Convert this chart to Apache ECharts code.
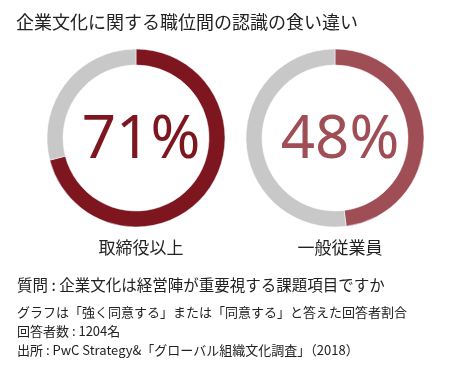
<!DOCTYPE html>
<html><head><meta charset="utf-8">
<script src="https://cdn.jsdelivr.net/npm/echarts@6/dist/echarts.min.js"></script>
<style>html,body{margin:0;padding:0;background:#fff}#c{width:470px;height:370px}</style>
</head><body><div id="c"></div>
<script>
const titleText = '企業文化に関する職位間の認識の食い違い';
const categories = ['取締役以上', '一般従業員'];
const values = [71, 48];
const colors = ['#7e1620', '#a04e56'];
const restColor = '#c8c8c8';
const notes = [
  '質問 : 企業文化は経営陣が重要視する課題項目ですか',
  'グラフは「強く同意する」または「同意する」と答えた回答者割合',
  '回答者数 : 1204名',
  '出所 : PwC Strategy&「グローバル組織文化調査」（2018）'
];
const centersX = [136, 335];
const centerY = 138;
const FONT = '"Noto Sans CJK JP", sans-serif';
const NUMFONT = '"Noto Sans", "Noto Sans CJK JP", sans-serif';

const chart = echarts.init(document.getElementById('c'));
const series = values.map((v, i) => ({
  type: 'pie',
  center: [centersX[i], centerY],
  radius: [73, 89],
  startAngle: 90,
  clockwise: true,
  silent: true,
  label: { show: false },
  labelLine: { show: false },
  itemStyle: { borderColor: '#fff', borderWidth: 0.5 },
  data: [
    { value: v, itemStyle: { color: colors[i] } },
    { value: 100 - v, itemStyle: { color: restColor } }
  ]
}));
const titles = [
  { text: titleText, left: 11, top: 8, textStyle: { fontFamily: FONT, fontSize: 18, fontWeight: 'normal', color: '#222' } }
];
values.forEach((v, i) => {
  titles.push({ text: v + '%', left: centersX[i], top: centerY - 32, textAlign: 'center',
    textStyle: { fontFamily: NUMFONT, fontSize: 60, fontWeight: 'normal', color: colors[i] } });
  titles.push({ text: categories[i], left: centersX[i], top: 234, textAlign: 'center',
    textStyle: { fontFamily: FONT, fontSize: 17, fontWeight: 'normal', color: '#222' } });
});
titles.push({ text: notes[0], left: 12, top: 272, textStyle: { fontFamily: FONT, fontSize: 15.5, fontWeight: 'normal', color: '#222' } });
[1, 2, 3].forEach((k, j) => {
  titles.push({ text: notes[k], left: 12, top: 301 + j * 19, textStyle: { fontFamily: FONT, fontSize: 13, fontWeight: 'normal', color: '#222' } });
});
chart.setOption({ animation: false, title: titles, series });
</script></body></html>
